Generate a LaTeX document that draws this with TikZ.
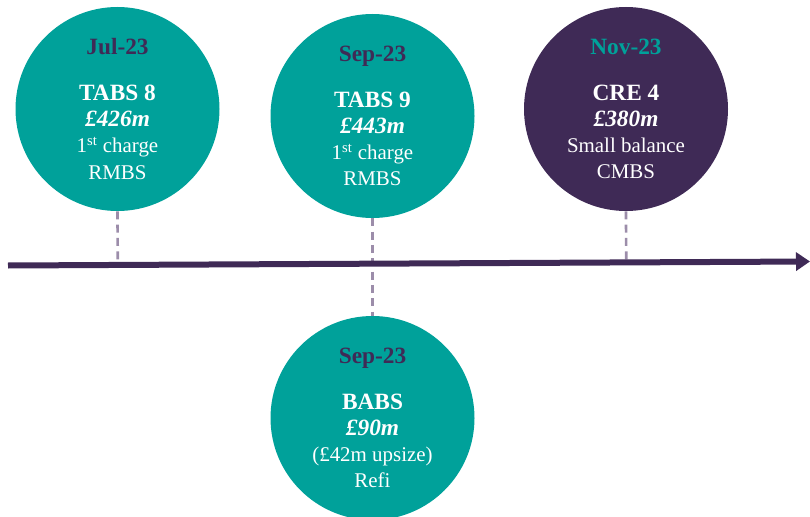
\documentclass[tikz,border=0pt]{standalone}
\usepackage{fontspec}
\setmainfont{Liberation Serif}
\usepackage{tikz}
\usetikzlibrary{arrows.meta,calc}
\definecolor{bteal}{HTML}{00A19A}
\definecolor{bpurple}{HTML}{3F2A56}
\definecolor{bgrey}{HTML}{9C8DAA}
\tikzstyle{event}=[circle,minimum size=153pt,inner sep=0pt,text=white,align=center,font=\fontsize{15.7}{19.7}\selectfont]
\tikzstyle{tealev}=[event,fill=bteal]
\tikzstyle{purpleev}=[event,fill=bpurple]
\tikzstyle{tick}=[draw=bgrey,line width=2pt,dash pattern=on 6pt off 4pt]
\tikzstyle{timeline}=[draw=bpurple,line width=4.5pt,-{Triangle[length=10.5pt,width=13.5pt]}]
\newcommand{\evdate}[2]{{\color{#1}\bfseries\fontsize{17.5}{20}\selectfont #2}\\[14.5pt]}
\newcommand{\evname}[1]{{\bfseries\fontsize{17.5}{20}\selectfont #1}}
\newcommand{\evsize}[1]{{\bfseries\itshape\fontsize{17.5}{20}\selectfont #1}}

\begin{document}
\begin{tikzpicture}[x=0.75pt,y=-0.75pt]
  \useasboundingbox (0,0) rectangle (810,517);
  \coordinate (tl) at (8,265.5);
  \coordinate (tr) at (810,261.5);

  \node[tealev] (c1) at (117.5,109) {\evdate{bpurple}{Jul-23}\evname{TABS 8}\\ \evsize{£426m}\\ 1\textsuperscript{st} charge\\ RMBS};
  \node[tealev] (c2) at (372.5,116) {\evdate{bpurple}{Sep-23}\evname{TABS 9}\\ \evsize{£443m}\\ 1\textsuperscript{st} charge\\ RMBS};
  \node[purpleev] (c3) at (626,109) {\evdate{bteal}{Nov-23}\evname{CRE 4}\\ \evsize{£380m}\\ Small balance\\ CMBS};
  \node[tealev] (c4) at (372.5,418) {\evdate{bpurple}{Sep-23}\evname{BABS}\\ \evsize{£90m}\\ (£42m upsize)\\ Refi};

  \foreach \c in {c1,c3}
    \draw[tick] (\c.south) -- ($(tl)!(\c.south)!(tr)$);
  \draw[tick] (c2.south) -- (c4.north);
  \draw[timeline] (tl) -- (tr);
\end{tikzpicture}
\end{document}
